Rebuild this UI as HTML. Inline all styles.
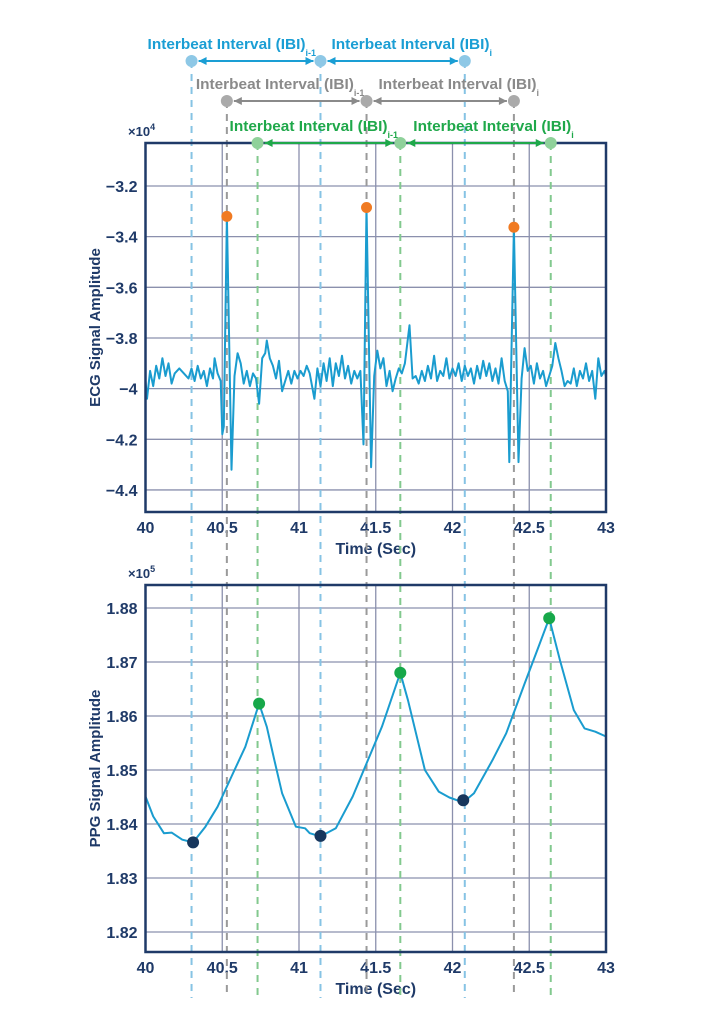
<!DOCTYPE html>
<html><head><meta charset="utf-8">
<style>
html,body{margin:0;padding:0;background:#fff;}
svg{display:block;font-family:"Liberation Sans",Arial,sans-serif;font-weight:bold;}
</style></head>
<body>
<svg id="chart" width="702" height="1029" viewBox="0 0 702 1029" xmlns="http://www.w3.org/2000/svg">
<g id="ecg"></g>
<g id="ppg"></g>
<g id="guides"></g>
<g id="series"></g>
<g id="annot"></g>
</svg>
<script>
// ---- data ----
const xTicks = [40, 40.5, 41, 41.5, 42, 42.5, 43];
const xTickLabels = ["40", "40.5", "41", "41.5", "42", "42.5", "43"];
const ecgTicks = [-3.2, -3.4, -3.6, -3.8, -4, -4.2, -4.4];
const ecgTickLabels = ["\u22123.2", "\u22123.4", "\u22123.6", "\u22123.8", "\u22124", "\u22124.2", "\u22124.4"];
const ppgTicks = [1.88, 1.87, 1.86, 1.85, 1.84, 1.83, 1.82];
const ppgTickLabels = ["1.88", "1.87", "1.86", "1.85", "1.84", "1.83", "1.82"];
const ecgT = [40.00,40.01,40.03,40.05,40.07,40.09,40.11,40.13,40.15,40.17,40.19,40.22,40.25,40.28,40.30,40.32,40.34,40.36,40.38,40.40,40.42,40.44,40.45,40.47,40.49,40.50,40.51,40.53,40.56,40.58,40.60,40.62,40.64,40.66,40.68,40.70,40.72,40.74,40.76,40.78,40.79,40.81,40.83,40.85,40.87,40.89,40.91,40.93,40.95,40.97,40.99,41.01,41.03,41.05,41.07,41.10,41.12,41.14,41.16,41.18,41.20,41.22,41.24,41.26,41.28,41.30,41.32,41.34,41.36,41.38,41.40,41.42,41.44,41.47,41.49,41.51,41.53,41.55,41.57,41.59,41.61,41.63,41.65,41.67,41.69,41.72,41.74,41.76,41.78,41.80,41.82,41.84,41.86,41.88,41.90,41.92,41.94,41.96,41.98,42.00,42.02,42.04,42.06,42.08,42.10,42.12,42.14,42.16,42.18,42.20,42.22,42.24,42.26,42.28,42.30,42.32,42.34,42.36,42.37,42.40,42.43,42.45,42.47,42.49,42.51,42.53,42.55,42.57,42.59,42.61,42.63,42.65,42.67,42.69,42.71,42.73,42.75,42.77,42.79,42.81,42.83,42.85,42.87,42.89,42.91,42.93,42.95,42.97,42.99,43.00];
const ecgV = [-3.97,-4.04,-3.93,-3.99,-3.91,-3.96,-3.88,-3.95,-3.90,-3.98,-3.94,-3.92,-3.94,-3.96,-3.92,-3.97,-3.91,-3.96,-3.93,-3.99,-3.92,-3.96,-3.88,-3.94,-3.97,-4.18,-4.15,-3.32,-4.32,-3.95,-3.86,-3.90,-3.98,-3.93,-3.99,-3.94,-3.96,-4.06,-3.88,-3.86,-3.81,-3.88,-3.91,-3.96,-3.89,-4.01,-3.97,-3.93,-3.98,-3.93,-3.96,-3.93,-3.95,-3.91,-3.94,-4.04,-3.92,-3.99,-3.90,-3.97,-3.88,-3.99,-3.90,-3.95,-3.87,-3.96,-3.91,-3.98,-3.93,-3.96,-3.93,-4.22,-3.285,-4.31,-3.95,-3.85,-3.92,-3.88,-3.99,-3.93,-4.01,-3.96,-3.92,-3.94,-3.90,-3.75,-3.96,-3.95,-3.98,-3.93,-3.97,-3.91,-3.96,-3.87,-3.97,-3.93,-3.95,-3.88,-3.96,-3.92,-3.95,-3.90,-3.97,-3.91,-3.95,-3.92,-3.98,-3.91,-3.96,-3.89,-3.95,-3.90,-3.97,-3.92,-3.98,-3.88,-3.97,-4.01,-4.29,-3.363,-4.29,-3.96,-3.84,-3.93,-3.91,-3.98,-3.90,-3.96,-3.93,-3.99,-3.95,-3.91,-3.82,-3.88,-3.93,-3.99,-3.97,-3.98,-3.92,-3.99,-3.93,-3.96,-3.90,-3.97,-3.93,-4.04,-3.88,-3.95,-3.93,-3.95];
const rPeakT = [40.53, 41.44, 42.40];
const rPeakV = [-3.32, -3.285, -3.363];
const ppgT = [40.00,40.05,40.12,40.17,40.24,40.31,40.39,40.47,40.56,40.65,40.74,40.79,40.84,40.89,40.98,41.04,41.07,41.14,41.24,41.35,41.44,41.54,41.66,41.71,41.82,41.91,41.98,42.07,42.14,42.26,42.35,42.47,42.56,42.63,42.70,42.79,42.86,42.93,43.00];
const ppgV = [1.8451,1.8414,1.8383,1.8384,1.8371,1.8366,1.8395,1.8432,1.8488,1.8543,1.8623,1.8580,1.8518,1.8457,1.8395,1.8392,1.8383,1.8377,1.8392,1.8451,1.8512,1.8580,1.8680,1.8629,1.8500,1.8460,1.8449,1.8440,1.8457,1.8518,1.8568,1.8660,1.8728,1.8781,1.8703,1.8611,1.8577,1.8571,1.8562];
const ppgMinT = [40.31, 41.14, 42.07];
const ppgMinV = [1.8366, 1.8378, 1.8444];
const ppgMaxT = [40.74, 41.66, 42.63];
const ppgMaxV = [1.8623, 1.8680, 1.8781];
const blueMarks = [40.30, 41.14, 42.08];
const greyMarks = [40.53, 41.44, 42.40];
const greenMarks = [40.73, 41.66, 42.64];

// ---- scales ----
const L = 145.5, R = 606;
function x(t){ return L + (t - 40) * (R - L) / 3; }
function yE(v){ return 186 + (-3.2 - v) * 253.3; }
function yP(v){ return 608 + (1.88 - v) * 5400; }
const NS = "http://www.w3.org/2000/svg";
function mk(tag, attrs, parent){ const e = document.createElementNS(NS, tag); for (const k in attrs) e.setAttribute(k, attrs[k]); parent.appendChild(e); return e; }

const NAVY = "#1f3a68", GRID = "#8b90ad", LINE = "#1a9ccf";

function drawPanel(g, top, bottom, ticks, labels, yf, exp, title, prefix){
  ticks.forEach((v,i)=>{
    const gl = mk("line", {x1:L, x2:R, y1:yf(v), y2:yf(v), stroke:GRID, "stroke-width":1.3}, g);
    
    
    const tl = mk("text", {x:L-8, y:yf(v)+6, "text-anchor":"end", "font-size":16, fill:NAVY}, g);
    tl.textContent = labels[i];
    
    
  });
  xTicks.forEach((t,i)=>{
    const gl = mk("line", {x1:x(t), x2:x(t), y1:top, y2:bottom, stroke:GRID, "stroke-width":1.3}, g);
    
    
    const tl = mk("text", {x:x(t), y:bottom+21, "text-anchor":"middle", "font-size":16, fill:NAVY}, g);
    tl.textContent = xTickLabels[i];
    
    
  });
  const xt = mk("text", {x:(L+R)/2, y:bottom+42, "text-anchor":"middle", "font-size":16, fill:NAVY}, g);
  xt.textContent = "Time (Sec)";
  
  
  const yt = mk("text", {x:0, y:0, "text-anchor":"middle", "font-size":15, fill:NAVY, transform:`translate(100,${(top+bottom)/2}) rotate(-90)`}, g);
  yt.textContent = title;
  
  
  const ex = mk("text", {x:128, y:top-7, "font-size":13, fill:NAVY}, g);
  ex.textContent = "\u00d710";
  const sup = mk("tspan", {dy:-6, "font-size":9}, ex);
  sup.textContent = exp;
  
  
}

function drawGuides(){
  const g = document.getElementById("guides");
  const sets = [[blueMarks, "#86c3e4", 61], [greyMarks, "#9a9a9a", 101], [greenMarks, "#82c98e", 143]];
  sets.forEach(([arr,col,y0])=>{
    arr.forEach(t=>{
      const l = mk("line", {x1:x(t), x2:x(t), y1:y0, y2:998, stroke:col, "stroke-width":2, "stroke-dasharray":"7 6"}, g);
      
      
    });
  });
}

function drawAnnot(){
  const g = document.getElementById("annot");
  const rows = [[blueMarks, "#1a9ed4", "#8ec8e6", 61, -44, 11], [greyMarks, "#8a8a8a", "#aaaaaa", 101, -31, 12], [greenMarks, "#1fa84a", "#8fd19a", 143, -28, 13]];
  rows.forEach(([arr,tc,dc,y,o1,o2])=>{
    for (let i=0;i<2;i++){
      const x1 = x(arr[i])+7, x2 = x(arr[i+1])-7;
      const ln = mk("line", {x1:x1, x2:x2, y1:y, y2:y, stroke:tc, "stroke-width":2}, g);
      
      
      mk("polygon", {points:`${x1},${y} ${x1+8},${y-4} ${x1+8},${y+4}`, fill:tc}, g);
      mk("polygon", {points:`${x2},${y} ${x2-8},${y-4} ${x2-8},${y+4}`, fill:tc}, g);
      const tx = mk("text", {x:x(arr[i]) + (i===0 ? o1 : o2), y:y-12, "font-size":15, fill:tc}, g);
      const main = mk("tspan", {textLength:158, lengthAdjust:"spacingAndGlyphs"}, tx);
      main.textContent = "Interbeat Interval (IBI)";
      const sb = mk("tspan", {dy:7, "font-size":9}, tx);
      sb.textContent = i===0 ? "i-1" : "i";
      
      
    }
    arr.forEach(t=>{
      const c = mk("circle", {cx:x(t), cy:y, r:6, fill:dc}, g);
      
      
    });
  });
}

function path(ts, vs, yf){ return ts.map((t,i)=>(i?"L":"M")+x(t).toFixed(1)+","+yf(vs[i]).toFixed(1)).join(""); }

const ecgG = document.getElementById("ecg");
drawPanel(ecgG, 143, 512, ecgTicks, ecgTickLabels, yE, "4", "ECG Signal Amplitude", "ecg");
const ppgG = document.getElementById("ppg");
drawPanel(ppgG, 585, 952, ppgTicks, ppgTickLabels, yP, "5", "PPG Signal Amplitude", "ppg");
drawGuides();

const S = document.getElementById("series");
const eclip = mk("clipPath", {id:"ce"}, S); mk("rect", {x:L, y:143, width:R-L, height:369}, eclip);
const el = mk("path", {d:path(ecgT, ecgV, yE), fill:"none", stroke:LINE, "stroke-width":2, "stroke-linejoin":"round", "clip-path":"url(#ce)"}, S);


rPeakT.forEach((t,i)=>{
  const c = mk("circle", {cx:x(t), cy:yE(rPeakV[i]), r:5.5, fill:"#f07a22"}, S);
  
  
});
const pl = mk("path", {d:path(ppgT, ppgV, yP), fill:"none", stroke:LINE, "stroke-width":2, "stroke-linejoin":"round"}, S);


ppgMinT.forEach((t,i)=>{
  const c = mk("circle", {cx:x(t), cy:yP(ppgMinV[i]), r:6, fill:"#17365c"}, S);
  
  
});
ppgMaxT.forEach((t,i)=>{
  const c = mk("circle", {cx:x(t), cy:yP(ppgMaxV[i]), r:6, fill:"#17a84a"}, S);
  
  
});
[[143,512],[585,952]].forEach(([t,b])=>{
  const f = mk("rect", {x:L, y:t, width:R-L, height:b-t, fill:"none", stroke:NAVY, "stroke-width":2.5}, S);
  
  
});
drawAnnot();
</script>
</body></html>
